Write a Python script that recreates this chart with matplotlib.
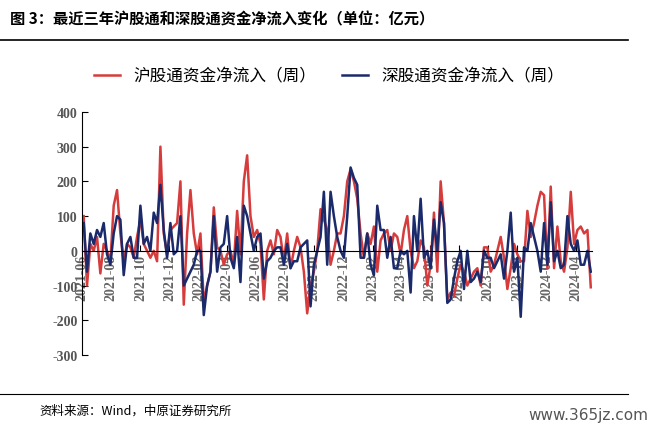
import numpy as np
import pandas as pd
import matplotlib.pyplot as plt
import matplotlib.dates as mdates

plt.rcParams["font.family"] = ["Noto Sans CJK SC"]

# weekly net inflow, 100 million yuan
hgt = [100, -100, 20, 0, 40, -65, 20, 0, -30, 130, 175, 50, -30, 20, 10, -20, 40, 90, 20, 0,
       -20, 0, -30, 300, 50, -10, 60, 70, 80, 200, -155, 50, 175, 50, -10, 50, -150, -100, -60, 125,
       10, 0, -40, -10, 0, -40, 115, -10, 200, 275, 100, 40, 60, 20, -140, 0, 30, -10, 60, 40,
       -30, 50, -50, 0, 40, 10, -60, -180, -100, -60, 0, 120, 90, 60, -40, 0, 50, 50, 100, 200,
       235, 200, 150, 50, -20, 50, 20, 70, -60, 30, 50, 60, 0, 50, 40, -10, 60, 100, 0, -50,
       -30, 30, 10, -100, -40, 110, -60, 200, 80, -140, -120, -130, -80, -40, -60, -100, -80, -60, -50, -100,
       10, 10, -60, -40, 0, 40, -20, -110, -50, 20, -10, -30, -30, 115, 40, 80, 130, 170, 160, -50,
       185, -50, 70, -30, -60, 10, 170, 20, 60, 70, 50, 60, -105]
sgt = [80, -60, 50, 20, 60, 40, 80, -10, -40, 50, 100, 90, -70, 20, 40, -20, -20, 130, 20, 40,
       0, 110, 80, 190, 60, -20, 80, -10, 0, 100, -100, -80, -60, -40, 0, 0, -185, -100, -60, 100,
       -60, 10, 20, 100, -20, -50, 40, -90, 130, 100, 50, 0, 40, 50, -80, -30, -20, 0, 10, 10,
       -40, 20, -50, -30, -30, 10, 20, 30, -160, -40, 0, 40, 170, -40, 170, 100, 40, 0, -20, 100,
       240, 210, 190, -20, -20, 50, -40, -70, 130, 60, 60, -20, 40, -50, -50, 0, -10, 0, -120, 100,
       0, 150, -20, 0, -50, 90, 0, 140, 80, -150, -140, -80, -30, 0, -110, 0, -90, -80, -60, -90,
       0, -20, -20, -50, -30, -10, -80, 0, 110, -60, -20, -190, 10, 0, 80, 40, 0, -60, 80, -40,
       140, -30, 0, -50, -40, 100, 20, 0, 30, -40, -40, 0, -60]
dates = pd.date_range("2021-06-04", periods=len(hgt), freq="7D")
yticks = [400, 300, 200, 100, 0, -100, -200, -300]

fig = plt.figure(figsize=(6.58, 4.31), dpi=100)
ax = fig.add_axes([0.125, 0.174, 0.775, 0.564])
ax.plot(dates, hgt, color="#D63C3C", lw=1.8, label="沪股通资金净流入（周）")
ax.plot(dates, sgt, color="#1B2A6B", lw=1.8, label="深股通资金净流入（周）")
ax.set_ylim(-300, 400)
ax.set_yticks(yticks)
ax.set_yticklabels([str(v) for v in yticks], fontfamily="Liberation Serif",
                   fontweight="bold", fontsize=10, color="#555555")
ax.set_xlim(pd.Timestamp("2021-06-01"), dates[-1] + pd.Timedelta(days=3))
ax.xaxis.set_major_locator(mdates.MonthLocator(bymonth=[2, 4, 6, 8, 10, 12]))
ax.xaxis.set_major_formatter(mdates.DateFormatter("%Y-%m"))
ax.spines["bottom"].set_position(("data", 0))
for s in ["top", "right"]:
    ax.spines[s].set_visible(False)
ax.tick_params(axis="x", direction="in", length=4, pad=2)
ax.tick_params(axis="y", direction="in", length=4)
for lb in ax.get_xticklabels():
    lb.set_rotation(90)
    lb.set_fontfamily("Liberation Serif")
    lb.set_fontweight("bold")
    lb.set_fontsize(10)
    lb.set_color("#666666")
    lb.set_verticalalignment("top")

fig.legend(loc="upper center", bbox_to_anchor=(0.5, 0.875), ncol=2, frameon=False,
           fontsize=12, handlelength=1.6, columnspacing=1.5)
fig.text(0.015, 0.955, "图 3：最近三年沪股通和深股通资金净流入变化（单位：亿元）",
         fontsize=11, fontweight="bold", va="center")
fig.add_artist(plt.Line2D([0.0, 0.955], [0.905, 0.905], color="black", lw=1.2))
fig.add_artist(plt.Line2D([0.0, 0.955], [0.083, 0.083], color="black", lw=0.8))
fig.text(0.06, 0.045, "资料来源：Wind，中原证券研究所", fontsize=9, va="center")
fig.text(0.985, 0.035, "www.365jz.com", fontsize=11, color="#555555", ha="right", va="center",
         fontfamily="DejaVu Sans")
fig.savefig("out.png", dpi=100)
